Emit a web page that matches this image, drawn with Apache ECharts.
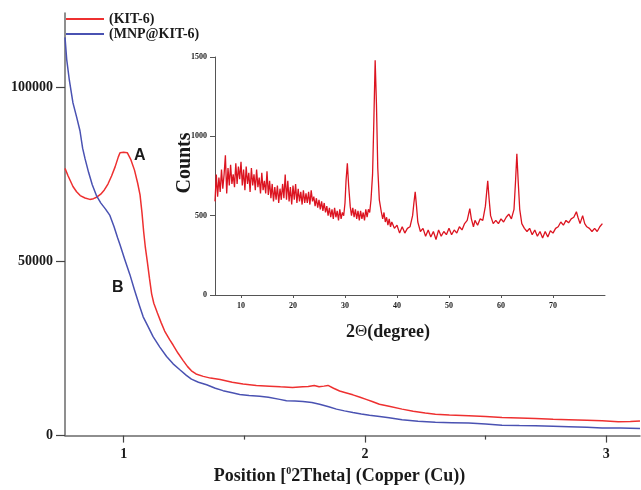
<!DOCTYPE html>
<html>
<head>
<meta charset="utf-8">
<title>KIT-6 / MNP@KIT-6 XRD</title>
<script src="https://cdn.jsdelivr.net/npm/echarts@6/dist/echarts.min.js"></script>
<style>
  html, body { margin: 0; padding: 0; background: #fff; }
  #main { width: 641px; height: 490px; }
</style>
</head>
<body>
<div id="main"></div>
<script>
// low angle XRD, [2theta, intensity]
const kit6 = [
  [0.757, 76700], [0.77, 74500], [0.79, 71500], [0.805, 70000], [0.82, 68900],
  [0.84, 68200], [0.86, 67800], [0.875, 68000], [0.89, 68500], [0.905, 69300],
  [0.92, 70500], [0.935, 72200], [0.95, 74500], [0.965, 77200], [0.978, 80000],
  [0.985, 81200], [1.0, 81300], [1.015, 81200], [1.03, 79200], [1.045, 76200],
  [1.058, 72500], [1.068, 69100], [1.076, 64000], [1.083, 58500], [1.09, 54000],
  [1.098, 50000], [1.107, 45200], [1.116, 40700], [1.125, 38000], [1.14, 35200],
  [1.155, 32500], [1.17, 30000], [1.19, 27600], [1.205, 26000], [1.225, 23700],
  [1.246, 21600], [1.265, 19800], [1.281, 18600], [1.3, 17700], [1.33, 17000],
  [1.36, 16500], [1.4, 16100], [1.45, 15300], [1.495, 14800], [1.55, 14400],
  [1.605, 14200], [1.65, 14000], [1.7, 13800], [1.742, 14000], [1.765, 14100],
  [1.79, 14400], [1.81, 14000], [1.83, 14200], [1.847, 14400], [1.87, 13600],
  [1.895, 12800], [1.92, 12300], [1.95, 11700], [1.98, 11000], [2.005, 10400],
  [2.03, 9800], [2.06, 9000], [2.1, 8400], [2.154, 7600], [2.2, 7000],
  [2.25, 6500], [2.292, 6150], [2.35, 5900], [2.43, 5700], [2.5, 5450],
  [2.568, 5200], [2.64, 5050], [2.706, 4900], [2.78, 4700], [2.845, 4550],
  [2.92, 4400], [2.983, 4260], [3.05, 4000], [3.1, 4050], [3.14, 4200]
];
const mnpKit6 = [
  [0.757, 114300], [0.764, 108000], [0.775, 102000], [0.79, 95500], [0.805, 91500],
  [0.819, 87500], [0.83, 82500], [0.84, 79500], [0.855, 75500], [0.87, 72000],
  [0.888, 68800], [0.905, 66800], [0.925, 65000], [0.943, 63200], [0.96, 60000],
  [0.975, 56800], [0.985, 54800], [1.005, 50500], [1.026, 46200], [1.045, 41800],
  [1.067, 37000], [1.081, 34100], [1.102, 31200], [1.122, 28400], [1.15, 25400],
  [1.178, 22700], [1.205, 20600], [1.233, 18900], [1.26, 17300], [1.281, 16200],
  [1.31, 15300], [1.344, 14600], [1.38, 13600], [1.412, 12900], [1.45, 12300],
  [1.481, 11800], [1.52, 11500], [1.564, 11300], [1.6, 11000], [1.647, 10400],
  [1.675, 10000], [1.71, 9900], [1.743, 9800], [1.78, 9500], [1.812, 9000],
  [1.85, 8300], [1.882, 7600], [1.915, 7100], [1.95, 6600], [1.985, 6200],
  [2.019, 5850], [2.061, 5500], [2.1, 5100], [2.154, 4550], [2.22, 4100],
  [2.292, 3800], [2.36, 3700], [2.43, 3600], [2.5, 3300], [2.568, 3000],
  [2.64, 2900], [2.706, 2850], [2.78, 2700], [2.845, 2550], [2.92, 2400],
  [2.983, 2200], [3.06, 2150], [3.14, 2050]
];
// wide angle pattern of the inset, [2theta, counts]
const xrdCounts = [
  [5.0, 590], [5.25, 760], [5.5, 620], [5.75, 740], [6.0, 650], [6.25, 790], [6.5, 670], [6.75, 760],
  [7.0, 880], [7.25, 640], [7.5, 800], [7.75, 690], [8.0, 820], [8.25, 700], [8.5, 760], [8.75, 680],
  [9.0, 830], [9.25, 700], [9.5, 810], [9.75, 730], [10.0, 840], [10.25, 690], [10.5, 790], [10.75, 660],
  [11.0, 810], [11.25, 700], [11.5, 770], [11.75, 650], [12.0, 800], [12.25, 690], [12.5, 760], [12.75, 660],
  [13.0, 790], [13.25, 680], [13.5, 740], [13.75, 640], [14.0, 770], [14.25, 660], [14.5, 720], [14.75, 640],
  [15.0, 780], [15.25, 630], [15.5, 720], [15.75, 610], [16.0, 700], [16.25, 590], [16.5, 680], [16.75, 600],
  [17.0, 690], [17.25, 580], [17.5, 670], [17.75, 600], [18.0, 700], [18.25, 610], [18.5, 760], [18.75, 600],
  [19.0, 720], [19.25, 590], [19.5, 680], [19.75, 570], [20.0, 690], [20.25, 600], [20.5, 700], [20.75, 580],
  [21.0, 670], [21.25, 590], [21.5, 650], [21.75, 570], [22.0, 660], [22.25, 580], [22.5, 640], [22.75, 580],
  [23.0, 650], [23.25, 570], [23.5, 660], [23.75, 590], [24.0, 620], [24.25, 560], [24.5, 610], [24.75, 550],
  [25.0, 600], [25.25, 540], [25.5, 590], [25.75, 530], [26.0, 580], [26.25, 520], [26.5, 560], [26.75, 500],
  [27.0, 550], [27.25, 490], [27.5, 540], [27.75, 480], [28.0, 550], [28.25, 490], [28.5, 530], [28.75, 470],
  [29.0, 540], [29.25, 480], [29.5, 520], [29.75, 500], [30.0, 580], [30.2, 720], [30.45, 830], [30.7, 690],
  [31.0, 560], [31.25, 500], [31.5, 550], [31.75, 490], [32.0, 540], [32.25, 480], [32.5, 530], [32.75, 470],
  [33.0, 530], [33.25, 480], [33.5, 520], [33.75, 470], [34.0, 540], [34.25, 490], [34.5, 540], [34.75, 520],
  [35.0, 600], [35.3, 760], [35.55, 1100], [35.8, 1480], [36.05, 1200], [36.3, 800], [36.6, 600], [37.0, 520],
  [37.25, 480], [37.5, 520], [37.75, 460], [38.0, 490], [38.25, 440], [38.5, 480], [38.75, 430], [39.0, 460],
  [39.5, 420], [40.0, 440], [40.5, 390], [41.0, 430], [41.5, 390], [42.0, 420], [42.5, 430], [43.0, 500],
  [43.25, 580], [43.5, 650], [43.75, 560], [44.0, 460], [44.5, 400], [45.0, 420], [45.5, 370], [46.0, 410],
  [46.5, 365], [47.0, 400], [47.5, 350], [48.0, 410], [48.5, 370], [49.0, 400], [49.5, 380], [50.0, 420],
  [50.5, 380], [51.0, 410], [51.5, 390], [52.0, 430], [52.5, 410], [53.0, 450], [53.5, 470], [54.0, 545],
  [54.3, 480], [54.7, 430], [55.0, 470], [55.5, 440], [56.0, 480], [56.5, 470], [57.0, 560], [57.25, 650],
  [57.45, 720], [57.7, 610], [58.0, 500], [58.5, 450], [59.0, 470], [59.5, 450], [60.0, 480], [60.5, 460],
  [61.0, 490], [61.5, 510], [62.0, 480], [62.5, 540], [62.8, 720], [63.05, 890], [63.3, 720], [63.6, 540],
  [64.0, 450], [64.5, 420], [65.0, 400], [65.5, 420], [66.0, 380], [66.5, 410], [67.0, 370], [67.5, 400],
  [68.0, 360], [68.5, 400], [69.0, 365], [69.5, 405], [70.0, 390], [70.5, 420], [71.0, 430], [71.5, 460],
  [72.0, 440], [72.5, 470], [73.0, 455], [73.5, 480], [74.0, 490], [74.5, 525], [74.8, 490], [75.2, 450],
  [75.7, 500], [76.1, 450], [76.5, 430], [77.0, 420], [77.5, 400], [78.0, 420], [78.5, 400], [79.0, 430],
  [79.5, 450]
];

// tick values
const mainXTicks = [1, 2, 3];
const mainXMinorTicks = [1.5, 2.5];
const mainYTicks = [0, 50000, 100000];
const insetXTicks = [10, 20, 30, 40, 50, 60, 70];

// peak letters: [label, 2theta, intensity]
const peakLabels = [['A', 1.067, 80400], ['B', 0.976, 42600]];

const serif = "'Liberation Serif', 'Times New Roman', serif";
const ink = '#1a1a1a';
// no thousands separator on the tick labels
const plain = v => String(v);

let chart = echarts.init(document.getElementById('main'));

let option = {
  backgroundColor: '#fff',
  animation: false,
  legend: {
    data: ['(KIT-6)', '(MNP@KIT-6)'],
    orient: 'vertical',
    left: 65,
    top: 12,
    padding: 0,
    itemWidth: 38,
    itemHeight: 14,
    itemGap: 1,
    itemStyle: { opacity: 0 },  // line only, no dot
    textStyle: { fontFamily: serif, fontWeight: 'bold', fontSize: 14, color: ink }
  },
  grid: [
    { left: 65, top: 13, right: 1, bottom: 50 },   // main plot
    { left: 215, top: 57, right: 36, bottom: 195 }  // inset
  ],
  xAxis: [
    {
      type: 'value',
      gridIndex: 0,
      position: 'bottom',
      min: 0.757,
      max: 3.14,
      name: '{t|Position [}{s|0}{t|2Theta] (Copper (Cu))}',
      nameLocation: 'middle',
      nameGap: 25,
      nameTextStyle: {
        padding: [0, 26, 0, 0],
        rich: {
          t: { fontFamily: serif, fontWeight: 'bold', fontSize: 18, color: ink },
          s: { fontFamily: serif, fontWeight: 'bold', fontSize: 10, color: ink, padding: [0, 0, 9, 0] }
        }
      },
      axisLine: { lineStyle: { color: '#6a6a6a', width: 1.5 } },
      axisTick: { customValues: mainXTicks, length: 7, lineStyle: { color: '#444', width: 1.2 } },
      axisLabel: {
        customValues: mainXTicks,
        formatter: plain,
        margin: 12,
        fontFamily: serif, fontWeight: 'bold', fontSize: 14, color: ink
      },
      splitLine: { show: false }
    },
    {
      // short ticks at the halves
      type: 'value',
      gridIndex: 0,
      position: 'bottom',
      min: 0.757,
      max: 3.14,
      axisLine: { show: false },
      axisTick: { customValues: mainXMinorTicks, length: 4, lineStyle: { color: '#444', width: 1.2 } },
      axisLabel: { show: false },
      splitLine: { show: false }
    },
    {
      type: 'value',
      gridIndex: 1,
      min: 5,
      max: 80,
      name: '{t|2}{g|Θ}{t|(degree)}',
      nameLocation: 'middle',
      nameGap: 28,
      nameTextStyle: {
        padding: [0, 44, 0, 0],
        rich: {
          t: { fontFamily: serif, fontWeight: 'bold', fontSize: 18, color: ink },
          g: { fontFamily: serif, fontWeight: 'normal', fontSize: 17, color: ink }
        }
      },
      axisLine: { lineStyle: { color: '#555', width: 1 } },
      axisTick: { customValues: insetXTicks, length: 3, lineStyle: { color: '#555' } },
      axisLabel: {
        customValues: insetXTicks,
        formatter: plain,
        margin: 7,
        fontFamily: serif, fontWeight: 'bold', fontSize: 8, color: ink
      },
      splitLine: { show: false }
    }
  ],
  yAxis: [
    {
      type: 'value',
      gridIndex: 0,
      min: 0,
      max: 121300,
      axisLine: { show: true, lineStyle: { color: '#6a6a6a', width: 1.5 } },
      axisTick: { show: true, customValues: mainYTicks, length: 9, lineStyle: { color: '#444', width: 1.2 } },
      axisLabel: {
        customValues: mainYTicks,
        formatter: plain,
        margin: 12,
        fontFamily: serif, fontWeight: 'bold', fontSize: 14, color: ink
      },
      splitLine: { show: false }
    },
    {
      type: 'value',
      gridIndex: 1,
      min: 0,
      max: 1500,
      interval: 500,
      name: 'Counts',
      nameLocation: 'middle',
      nameGap: 20,
      nameMoveOverlap: false,
      nameTextStyle: {
        fontFamily: serif, fontWeight: 'bold', fontSize: 20, color: ink,
        padding: [0, 0, 0, 26]
      },
      axisLine: { show: true, lineStyle: { color: '#555', width: 1 } },
      axisTick: { show: true, length: 5, lineStyle: { color: '#555' } },
      axisLabel: { formatter: plain, margin: 8, fontFamily: serif, fontWeight: 'bold', fontSize: 8, color: ink },
      splitLine: { show: false }
    }
  ],
  series: [
    {
      name: '(KIT-6)',
      type: 'line',
      xAxisIndex: 0,
      yAxisIndex: 0,
      symbol: 'none',
      color: '#ee3030',
      lineStyle: { width: 1.5, color: '#ee3030' },
      markPoint: {
        symbol: 'circle',
        symbolSize: 1,
        itemStyle: { color: 'rgba(0,0,0,0)' },
        label: {
          show: true,
          position: 'inside',
          formatter: p => p.name,
          fontFamily: "'Liberation Sans', Arial, sans-serif",
          fontWeight: 'bold',
          fontSize: 16,
          color: ink
        },
        data: peakLabels.map(v => ({ name: v[0], coord: [v[1], v[2]] }))
      },
      data: kit6
    },
    {
      name: '(MNP@KIT-6)',
      type: 'line',
      xAxisIndex: 0,
      yAxisIndex: 0,
      symbol: 'none',
      color: '#4a52b2',
      lineStyle: { width: 1.5, color: '#4a52b2' },
      data: mnpKit6
    },
    {
      name: 'inset',
      type: 'line',
      xAxisIndex: 2,
      yAxisIndex: 1,
      symbol: 'none',
      lineStyle: { width: 1.3, color: '#dc1420' },
      data: xrdCounts
    }
  ]
};

chart.setOption(option);
</script>
</body>
</html>
